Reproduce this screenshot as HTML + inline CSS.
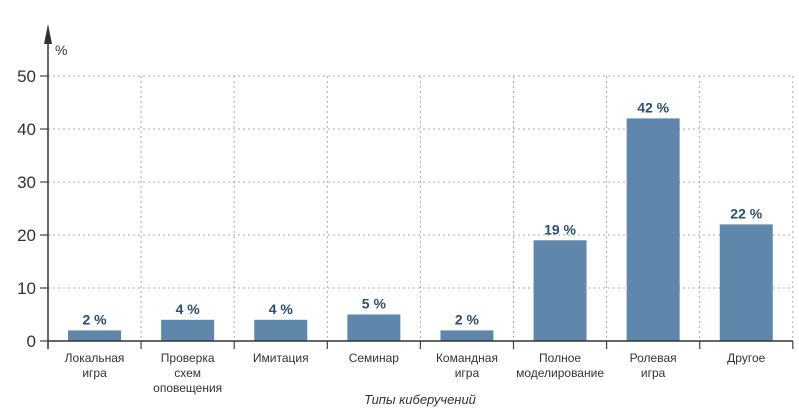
<!DOCTYPE html>
<html><head><meta charset="utf-8"><style>
body{margin:0;background:#fff;font-family:"Liberation Sans","DejaVu Sans",sans-serif;}
</style></head><body>
<svg width="799" height="414" xmlns="http://www.w3.org/2000/svg" id="chart"></svg>
<script>
const categories=[["Локальная","игра"],["Проверка","схем","оповещения"],["Имитация"],["Семинар"],["Командная","игра"],["Полное","моделирование"],["Ролевая","игра"],["Другое"]];
const values=[2,4,4,5,2,19,42,22];
const yTicks=[0,10,20,30,40,50];
const svg=document.getElementById('chart');
const NS='http://www.w3.org/2000/svg';
const x0=48,cw=93.1,y0=341,ppu=5.3;
const yS=v=>y0-v*ppu;
function mk(t,a,txt){const e=document.createElementNS(NS,t);for(const k in a)e.setAttribute(k,a[k]);if(txt!=null)e.textContent=txt;svg.appendChild(e);return e;}
yTicks.forEach(v=>{
 if(v>0){const g=mk('line',{x1:x0,x2:793,y1:yS(v),y2:yS(v),stroke:'#aaa','stroke-dasharray':'2,3','stroke-width':1});
 }
 const t=mk('line',{x1:x0-8,x2:x0,y1:yS(v),y2:yS(v),stroke:'#444','stroke-width':1.2});
 
 const l=mk('text',{x:x0-12,y:yS(v)+6,'text-anchor':'end','font-size':17,fill:'#333'},v);
 
});
categories.forEach((c,i)=>{
 const xr=x0+cw*(i+1);
 if(i<categories.length){const d=mk('line',{x1:xr,x2:xr,y1:yS(50),y2:y0,stroke:'#aaa','stroke-dasharray':'2,3','stroke-width':1});
 }
 const tk=mk('line',{x1:xr,x2:xr,y1:y0,y2:y0+8,stroke:'#444','stroke-width':1.2});
 
 const cx=x0+cw*(i+0.5);
 const b=mk('rect',{x:cx-26.5,y:yS(values[i]),width:53,height:values[i]*ppu,fill:'#5f87ab'});
 
 const vl=mk('text',{x:cx,y:yS(values[i])-6,'text-anchor':'middle','font-size':14,'font-weight':'bold',fill:'#2e4f6e'},values[i]+' %');
 
 c.forEach((ln,j)=>{const t=mk('text',{x:cx,y:362+j*15,'text-anchor':'middle','font-size':12,fill:'#333'},ln);
 });
});
const ya=mk('line',{x1:x0,x2:x0,y1:y0+8,y2:30,stroke:'#333','stroke-width':1.5});

const ar=mk('polygon',{points:`${x0-4},44 ${x0+4},44 ${x0},24`,fill:'#333'});

const xa=mk('line',{x1:x0,x2:793,y1:y0,y2:y0,stroke:'#333','stroke-width':1.5});

const yu=mk('text',{x:55,y:55,'font-size':14,fill:'#333'},'%');

const xt=mk('text',{x:420,y:404,'text-anchor':'middle','font-size':13,'font-style':'italic',fill:'#333'},'Типы киберучений');

</script>
</body></html>
